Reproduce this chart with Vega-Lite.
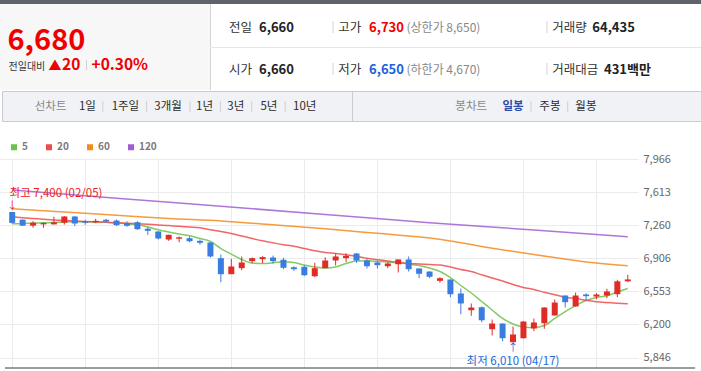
{
  "$schema": "https://vega.github.io/schema/vega-lite/v6.json",
  "background": "white",
  "padding": 0,
  "spacing": 0,
  "bounds": "flush",
  "resolve": {"scale": {"color": "independent"}, "legend": {"color": "independent"}},
  "config": {"font": "Noto Sans CJK KR", "view": {"stroke": null}},
  "datasets": {
    "quote": [{"price": "6,680", "chg": "20", "pct": "+0.30%", "prev": "6,660", "high": "6,730", "upper": "(상한가 8,650)", "vol": "64,435", "open": "6,660", "low": "6,650", "lower": "(하한가 4,670)", "amt": "431백만"}],
    "ext": [
      {"i": 0, "p": 7400, "kind": "high", "t": "최고 7,400 (02/05)"},
      {"i": 48, "p": 6010, "kind": "low", "t": "최저 6,010 (04/17)"}
    ],
    "candles": [
      {"i": 0, "o": 7400, "h": 7400, "l": 7275, "c": 7284, "m5": 7274, "m20": 7349, "m60": 7434, "m120": 7635},
      {"i": 1, "o": 7318, "h": 7320, "l": 7250, "c": 7254, "m5": 7277, "m20": 7339},
      {"i": 2, "o": 7254, "h": 7302, "l": 7232, "c": 7286, "m5": 7280, "m20": 7331},
      {"i": 3, "o": 7268, "h": 7290, "l": 7232, "c": 7282, "m5": 7285, "m20": 7322},
      {"i": 4, "o": 7268, "h": 7349, "l": 7266, "c": 7290, "m5": 7288, "m20": 7315},
      {"i": 5, "o": 7285, "h": 7356, "l": 7266, "c": 7352, "m5": 7293, "m20": 7309, "m60": 7400},
      {"i": 6, "o": 7352, "h": 7355, "l": 7248, "c": 7277, "m5": 7295, "m20": 7304},
      {"i": 7, "o": 7302, "h": 7317, "l": 7263, "c": 7285, "m5": 7295, "m20": 7298},
      {"i": 8, "o": 7292, "h": 7327, "l": 7280, "c": 7306, "m5": 7293, "m20": 7294},
      {"i": 9, "o": 7317, "h": 7327, "l": 7285, "c": 7299, "m5": 7290, "m20": 7290},
      {"i": 10, "o": 7309, "h": 7320, "l": 7250, "c": 7259, "m5": 7282, "m20": 7286, "m60": 7366, "m120": 7547},
      {"i": 11, "o": 7280, "h": 7302, "l": 7242, "c": 7253, "m5": 7274, "m20": 7280},
      {"i": 12, "o": 7291, "h": 7302, "l": 7210, "c": 7216, "m5": 7263, "m20": 7275},
      {"i": 13, "o": 7221, "h": 7238, "l": 7156, "c": 7199, "m5": 7240, "m20": 7269},
      {"i": 14, "o": 7192, "h": 7195, "l": 7106, "c": 7117, "m5": 7210, "m20": 7262},
      {"i": 15, "o": 7106, "h": 7158, "l": 7092, "c": 7156, "m5": 7186, "m20": 7256, "m60": 7331},
      {"i": 16, "o": 7115, "h": 7138, "l": 7077, "c": 7130, "m5": 7165, "m20": 7247},
      {"i": 17, "o": 7120, "h": 7141, "l": 7077, "c": 7088, "m5": 7146, "m20": 7240},
      {"i": 18, "o": 7092, "h": 7106, "l": 7050, "c": 7071, "m5": 7117, "m20": 7231},
      {"i": 19, "o": 7074, "h": 7078, "l": 6914, "c": 6925, "m5": 7085, "m20": 7211},
      {"i": 20, "o": 6907, "h": 6946, "l": 6650, "c": 6736, "m5": 7010, "m20": 7192, "m60": 7304, "m120": 7461},
      {"i": 21, "o": 6736, "h": 6900, "l": 6736, "c": 6818, "m5": 6951, "m20": 7170},
      {"i": 22, "o": 6800, "h": 6925, "l": 6778, "c": 6861, "m5": 6893, "m20": 7144},
      {"i": 23, "o": 6875, "h": 6914, "l": 6853, "c": 6907, "m5": 6855, "m20": 7117},
      {"i": 24, "o": 6896, "h": 6928, "l": 6853, "c": 6918, "m5": 6850, "m20": 7092},
      {"i": 25, "o": 6914, "h": 6935, "l": 6850, "c": 6875, "m5": 6857, "m20": 7071, "m60": 7263},
      {"i": 26, "o": 6890, "h": 6911, "l": 6789, "c": 6804, "m5": 6869, "m20": 7051},
      {"i": 27, "o": 6810, "h": 6821, "l": 6772, "c": 6789, "m5": 6861, "m20": 7034},
      {"i": 28, "o": 6815, "h": 6829, "l": 6716, "c": 6725, "m5": 6834, "m20": 7010},
      {"i": 29, "o": 6714, "h": 6857, "l": 6704, "c": 6800, "m5": 6813, "m20": 6986},
      {"i": 30, "o": 6800, "h": 6917, "l": 6800, "c": 6882, "m5": 6802, "m20": 6967, "m60": 7221, "m120": 7374},
      {"i": 31, "o": 6882, "h": 6954, "l": 6829, "c": 6925, "m5": 6813, "m20": 6957},
      {"i": 32, "o": 6907, "h": 6960, "l": 6864, "c": 6932, "m5": 6850, "m20": 6943},
      {"i": 33, "o": 6957, "h": 6960, "l": 6857, "c": 6882, "m5": 6877, "m20": 6927},
      {"i": 34, "o": 6882, "h": 6900, "l": 6797, "c": 6821, "m5": 6879, "m20": 6905},
      {"i": 35, "o": 6861, "h": 6875, "l": 6797, "c": 6832, "m5": 6873, "m20": 6891, "m60": 7172},
      {"i": 36, "o": 6821, "h": 6864, "l": 6800, "c": 6850, "m5": 6866, "m20": 6877},
      {"i": 37, "o": 6842, "h": 6893, "l": 6754, "c": 6893, "m5": 6857, "m20": 6861},
      {"i": 38, "o": 6893, "h": 6925, "l": 6764, "c": 6789, "m5": 6845, "m20": 6850},
      {"i": 39, "o": 6797, "h": 6797, "l": 6693, "c": 6740, "m5": 6829, "m20": 6845},
      {"i": 40, "o": 6764, "h": 6766, "l": 6693, "c": 6708, "m5": 6802, "m20": 6839, "m60": 7122, "m120": 7286},
      {"i": 41, "o": 6665, "h": 6704, "l": 6644, "c": 6693, "m5": 6764, "m20": 6834},
      {"i": 42, "o": 6679, "h": 6679, "l": 6490, "c": 6522, "m5": 6700, "m20": 6813, "m60": 7090},
      {"i": 43, "o": 6530, "h": 6583, "l": 6308, "c": 6423, "m5": 6615, "m20": 6786},
      {"i": 44, "o": 6351, "h": 6423, "l": 6291, "c": 6380, "m5": 6535, "m20": 6764},
      {"i": 45, "o": 6383, "h": 6390, "l": 6223, "c": 6244, "m5": 6444, "m20": 6729, "m60": 7032},
      {"i": 46, "o": 6148, "h": 6252, "l": 6081, "c": 6209, "m5": 6353, "m20": 6695},
      {"i": 47, "o": 6209, "h": 6212, "l": 6020, "c": 6052, "m5": 6263, "m20": 6663},
      {"i": 48, "o": 6010, "h": 6177, "l": 6010, "c": 6092, "m5": 6204, "m20": 6626},
      {"i": 49, "o": 6052, "h": 6235, "l": 6048, "c": 6230, "m5": 6172, "m20": 6594},
      {"i": 50, "o": 6156, "h": 6262, "l": 6127, "c": 6220, "m5": 6166, "m20": 6572, "m60": 6946, "m120": 7208},
      {"i": 51, "o": 6212, "h": 6383, "l": 6153, "c": 6380, "m5": 6188, "m20": 6543},
      {"i": 52, "o": 6295, "h": 6466, "l": 6293, "c": 6433, "m5": 6263, "m20": 6516},
      {"i": 53, "o": 6508, "h": 6510, "l": 6380, "c": 6437, "m5": 6337, "m20": 6490},
      {"i": 54, "o": 6391, "h": 6540, "l": 6391, "c": 6508, "m5": 6401, "m20": 6476},
      {"i": 55, "o": 6519, "h": 6533, "l": 6452, "c": 6501, "m5": 6455, "m20": 6458, "m60": 6866},
      {"i": 56, "o": 6497, "h": 6533, "l": 6469, "c": 6519, "m5": 6487, "m20": 6442},
      {"i": 57, "o": 6508, "h": 6580, "l": 6480, "c": 6551, "m5": 6505, "m20": 6433},
      {"i": 58, "o": 6522, "h": 6676, "l": 6490, "c": 6660, "m5": 6546, "m20": 6426},
      {"i": 59, "o": 6660, "h": 6730, "l": 6650, "c": 6680, "m5": 6583, "m20": 6421, "m60": 6826, "m120": 7135}
    ]
  },
  "vconcat": [
    {
      "width": 701,
      "height": 159,
      "data": {"name": "quote"},
      "layer": [
        {"mark": {"type": "rect", "color": "#5f6369"}, "encoding": {"x": {"datum": 0, "type": "quantitative", "scale": {"domain": [0, 701], "nice": false, "zero": false}, "axis": null}, "x2": {"datum": 701}, "y": {"datum": 0, "type": "quantitative", "scale": {"domain": [0, 159], "nice": false, "zero": false, "reverse": true}, "axis": null}, "y2": {"datum": 4}}},
        {"mark": {"type": "rect", "color": "#f7f7f7"}, "encoding": {"x": {"datum": 0, "axis": null}, "x2": {"datum": 210}, "y": {"datum": 4, "axis": null}, "y2": {"datum": 90}}},
        {"mark": {"type": "rule", "color": "#d3d3d3"}, "encoding": {"x": {"datum": 210.5, "axis": null}, "y": {"datum": 4, "axis": null}, "y2": {"datum": 90}}},
        {"mark": {"type": "rule", "color": "#e6e6e6"}, "encoding": {"x": {"datum": 210, "axis": null}, "x2": {"datum": 701}, "y": {"datum": 47.5, "axis": null}}},
        {"mark": {"type": "rect", "fill": "#f1f2f6", "stroke": "#c9cbd0", "strokeWidth": 1}, "encoding": {"x": {"datum": 2.5, "axis": null}, "x2": {"datum": 703}, "y": {"datum": 91.5, "axis": null}, "y2": {"datum": 121.5}}},
        {"mark": {"type": "rule", "color": "#c9cbd0"}, "encoding": {"x": {"datum": 352.5, "axis": null}, "y": {"datum": 91.5, "axis": null}, "y2": {"datum": 121.5}}},

        {"mark": {"type": "text", "align": "left", "baseline": "alphabetic", "fontSize": 29, "fontWeight": "bold", "color": "#f00000"}, "encoding": {"x": {"datum": 7.5, "axis": null}, "y": {"datum": 49.5, "axis": null}, "text": {"field": "price"}}},
        {"mark": {"type": "text", "align": "left", "baseline": "alphabetic", "fontSize": 10, "color": "#333333", "text": "전일대비"}, "encoding": {"x": {"datum": 8.5, "axis": null}, "y": {"datum": 69.5, "axis": null}}},
        {"mark": {"type": "text", "align": "left", "baseline": "alphabetic", "fontSize": 13, "color": "#f00000", "text": "▲"}, "encoding": {"x": {"datum": 48.5, "axis": null}, "y": {"datum": 69.5, "axis": null}}},
        {"mark": {"type": "text", "align": "left", "baseline": "alphabetic", "fontSize": 15.5, "fontWeight": "bold", "color": "#f00000"}, "encoding": {"x": {"datum": 62, "axis": null}, "y": {"datum": 70, "axis": null}, "text": {"field": "chg"}}},
        {"mark": {"type": "rule", "color": "#d0d0d0"}, "encoding": {"x": {"datum": 86.5, "axis": null}, "y": {"datum": 60, "axis": null}, "y2": {"datum": 70}}},
        {"mark": {"type": "text", "align": "left", "baseline": "alphabetic", "fontSize": 15.5, "fontWeight": "bold", "color": "#f00000"}, "encoding": {"x": {"datum": 91.5, "axis": null}, "y": {"datum": 70, "axis": null}, "text": {"field": "pct"}}},

        {"mark": {"type": "text", "align": "left", "baseline": "alphabetic", "fontSize": 12.5, "color": "#333333", "text": "전일"}, "encoding": {"x": {"datum": 229, "axis": null}, "y": {"datum": 31.8, "axis": null}}},
        {"mark": {"type": "text", "align": "left", "baseline": "alphabetic", "fontSize": 13, "fontWeight": "bold", "color": "#222222"}, "encoding": {"x": {"datum": 259, "axis": null}, "y": {"datum": 31.8, "axis": null}, "text": {"field": "prev"}}},
        {"mark": {"type": "rule", "color": "#d6d6d6"}, "encoding": {"x": {"datum": 333, "axis": null}, "y": {"datum": 21, "axis": null}, "y2": {"datum": 33}}},
        {"mark": {"type": "text", "align": "left", "baseline": "alphabetic", "fontSize": 12.5, "color": "#333333", "text": "고가"}, "encoding": {"x": {"datum": 338.3, "axis": null}, "y": {"datum": 31.8, "axis": null}}},
        {"mark": {"type": "text", "align": "left", "baseline": "alphabetic", "fontSize": 13, "fontWeight": "bold", "color": "#f00000"}, "encoding": {"x": {"datum": 369, "axis": null}, "y": {"datum": 31.8, "axis": null}, "text": {"field": "high"}}},
        {"mark": {"type": "text", "align": "left", "baseline": "alphabetic", "fontSize": 12, "color": "#888888"}, "encoding": {"x": {"datum": 406.5, "axis": null}, "y": {"datum": 31.8, "axis": null}, "text": {"field": "upper"}}},
        {"mark": {"type": "rule", "color": "#d6d6d6"}, "encoding": {"x": {"datum": 547, "axis": null}, "y": {"datum": 21, "axis": null}, "y2": {"datum": 33}}},
        {"mark": {"type": "text", "align": "left", "baseline": "alphabetic", "fontSize": 12.5, "color": "#333333", "text": "거래량"}, "encoding": {"x": {"datum": 552.3, "axis": null}, "y": {"datum": 31.8, "axis": null}}},
        {"mark": {"type": "text", "align": "left", "baseline": "alphabetic", "fontSize": 13, "fontWeight": "bold", "color": "#222222"}, "encoding": {"x": {"datum": 592.3, "axis": null}, "y": {"datum": 31.8, "axis": null}, "text": {"field": "vol"}}},

        {"mark": {"type": "text", "align": "left", "baseline": "alphabetic", "fontSize": 12.5, "color": "#333333", "text": "시가"}, "encoding": {"x": {"datum": 229, "axis": null}, "y": {"datum": 73.8, "axis": null}}},
        {"mark": {"type": "text", "align": "left", "baseline": "alphabetic", "fontSize": 13, "fontWeight": "bold", "color": "#222222"}, "encoding": {"x": {"datum": 259, "axis": null}, "y": {"datum": 73.8, "axis": null}, "text": {"field": "open"}}},
        {"mark": {"type": "rule", "color": "#d6d6d6"}, "encoding": {"x": {"datum": 333, "axis": null}, "y": {"datum": 63, "axis": null}, "y2": {"datum": 75}}},
        {"mark": {"type": "text", "align": "left", "baseline": "alphabetic", "fontSize": 12.5, "color": "#333333", "text": "저가"}, "encoding": {"x": {"datum": 338.3, "axis": null}, "y": {"datum": 73.8, "axis": null}}},
        {"mark": {"type": "text", "align": "left", "baseline": "alphabetic", "fontSize": 13, "fontWeight": "bold", "color": "#1a62dc"}, "encoding": {"x": {"datum": 369, "axis": null}, "y": {"datum": 73.8, "axis": null}, "text": {"field": "low"}}},
        {"mark": {"type": "text", "align": "left", "baseline": "alphabetic", "fontSize": 12, "color": "#888888"}, "encoding": {"x": {"datum": 406.5, "axis": null}, "y": {"datum": 73.8, "axis": null}, "text": {"field": "lower"}}},
        {"mark": {"type": "rule", "color": "#d6d6d6"}, "encoding": {"x": {"datum": 547, "axis": null}, "y": {"datum": 63, "axis": null}, "y2": {"datum": 75}}},
        {"mark": {"type": "text", "align": "left", "baseline": "alphabetic", "fontSize": 12.5, "color": "#333333", "text": "거래대금"}, "encoding": {"x": {"datum": 552.3, "axis": null}, "y": {"datum": 73.8, "axis": null}}},
        {"mark": {"type": "text", "align": "left", "baseline": "alphabetic", "fontSize": 13, "fontWeight": "bold", "color": "#222222"}, "encoding": {"x": {"datum": 604, "axis": null}, "y": {"datum": 73.8, "axis": null}, "text": {"field": "amt"}}},

        {"mark": {"type": "text", "align": "center", "baseline": "middle", "fontSize": 11.5, "color": "#888888", "text": "선차트"}, "encoding": {"x": {"datum": 50.6, "axis": null}, "y": {"datum": 106.5, "axis": null}}},
        {"mark": {"type": "text", "align": "center", "baseline": "middle", "fontSize": 11.5, "color": "#2b2b2b", "text": "1일"}, "encoding": {"x": {"datum": 87.4, "axis": null}, "y": {"datum": 106.5, "axis": null}}},
        {"mark": {"type": "rule", "color": "#cfd0d4"}, "encoding": {"x": {"datum": 102.8, "axis": null}, "y": {"datum": 101, "axis": null}, "y2": {"datum": 112}}},
        {"mark": {"type": "text", "align": "center", "baseline": "middle", "fontSize": 11.5, "color": "#2b2b2b", "text": "1주일"}, "encoding": {"x": {"datum": 125.4, "axis": null}, "y": {"datum": 106.5, "axis": null}}},
        {"mark": {"type": "rule", "color": "#cfd0d4"}, "encoding": {"x": {"datum": 146.6, "axis": null}, "y": {"datum": 101, "axis": null}, "y2": {"datum": 112}}},
        {"mark": {"type": "text", "align": "center", "baseline": "middle", "fontSize": 11.5, "color": "#2b2b2b", "text": "3개월"}, "encoding": {"x": {"datum": 168.1, "axis": null}, "y": {"datum": 106.5, "axis": null}}},
        {"mark": {"type": "rule", "color": "#cfd0d4"}, "encoding": {"x": {"datum": 190, "axis": null}, "y": {"datum": 101, "axis": null}, "y2": {"datum": 112}}},
        {"mark": {"type": "text", "align": "center", "baseline": "middle", "fontSize": 11.5, "color": "#2b2b2b", "text": "1년"}, "encoding": {"x": {"datum": 204.5, "axis": null}, "y": {"datum": 106.5, "axis": null}}},
        {"mark": {"type": "rule", "color": "#cfd0d4"}, "encoding": {"x": {"datum": 220.4, "axis": null}, "y": {"datum": 101, "axis": null}, "y2": {"datum": 112}}},
        {"mark": {"type": "text", "align": "center", "baseline": "middle", "fontSize": 11.5, "color": "#2b2b2b", "text": "3년"}, "encoding": {"x": {"datum": 235.8, "axis": null}, "y": {"datum": 106.5, "axis": null}}},
        {"mark": {"type": "rule", "color": "#cfd0d4"}, "encoding": {"x": {"datum": 251.7, "axis": null}, "y": {"datum": 101, "axis": null}, "y2": {"datum": 112}}},
        {"mark": {"type": "text", "align": "center", "baseline": "middle", "fontSize": 11.5, "color": "#2b2b2b", "text": "5년"}, "encoding": {"x": {"datum": 268.9, "axis": null}, "y": {"datum": 106.5, "axis": null}}},
        {"mark": {"type": "rule", "color": "#cfd0d4"}, "encoding": {"x": {"datum": 285.2, "axis": null}, "y": {"datum": 101, "axis": null}, "y2": {"datum": 112}}},
        {"mark": {"type": "text", "align": "center", "baseline": "middle", "fontSize": 11.5, "color": "#2b2b2b", "text": "10년"}, "encoding": {"x": {"datum": 304.7, "axis": null}, "y": {"datum": 106.5, "axis": null}}},
        {"mark": {"type": "text", "align": "center", "baseline": "middle", "fontSize": 11.5, "color": "#888888", "text": "봉차트"}, "encoding": {"x": {"datum": 471.2, "axis": null}, "y": {"datum": 106.5, "axis": null}}},
        {"mark": {"type": "text", "align": "center", "baseline": "middle", "fontSize": 11.5, "fontWeight": "bold", "color": "#2a4aa8", "text": "일봉"}, "encoding": {"x": {"datum": 513, "axis": null}, "y": {"datum": 106.5, "axis": null}}},
        {"mark": {"type": "rule", "color": "#cfd0d4"}, "encoding": {"x": {"datum": 531, "axis": null}, "y": {"datum": 101, "axis": null}, "y2": {"datum": 112}}},
        {"mark": {"type": "text", "align": "center", "baseline": "middle", "fontSize": 11.5, "color": "#2b2b2b", "text": "주봉"}, "encoding": {"x": {"datum": 549.9, "axis": null}, "y": {"datum": 106.5, "axis": null}}},
        {"mark": {"type": "rule", "color": "#cfd0d4"}, "encoding": {"x": {"datum": 567.7, "axis": null}, "y": {"datum": 101, "axis": null}, "y2": {"datum": 112}}},
        {"mark": {"type": "text", "align": "center", "baseline": "middle", "fontSize": 11.5, "color": "#2b2b2b", "text": "월봉"}, "encoding": {"x": {"datum": 585.9, "axis": null}, "y": {"datum": 106.5, "axis": null}}}
      ]
    },
    {
      "width": 638,
      "height": 209,
      "data": {"name": "candles"},
      "layer": [
        {
          "transform": [
            {"fold": ["m5", "m20", "m60", "m120"], "as": ["k", "v"]},
            {"filter": "isValid(datum.v)"}
          ],
          "mark": {"type": "line", "strokeWidth": 1.5, "opacity": 0.85, "interpolate": "monotone"},
          "encoding": {
            "x": {"field": "i", "type": "quantitative", "scale": {"domain": [-0.689, 59.5], "nice": false, "zero": false},
                  "axis": {"title": null, "values": [0, 7, 14, 21, 28, 35, 42, 49, 56], "grid": true, "gridColor": "#ebebeb", "labels": false, "ticks": false, "domain": false}},
            "y": {"field": "v", "type": "quantitative", "scale": {"domain": [5734, 7966], "nice": false, "zero": false},
                  "axis": {"title": null, "orient": "right", "values": [5846, 6200, 6553, 6906, 7260, 7613, 7966], "format": ",d", "grid": true, "gridColor": "#ebebeb", "ticks": false, "domain": false, "labelPadding": 5, "labelFontSize": 11, "labelColor": "#666666"}},
            "color": {"field": "k", "type": "nominal",
                      "scale": {"domain": ["m5", "m20", "m60", "m120"], "range": ["#6cc24a", "#ee4b4b", "#f5891c", "#a05fd0"]},
                      "legend": {"orient": "none", "legendX": 9, "legendY": -17, "direction": "horizontal", "title": null, "symbolType": "square", "symbolSize": 1, "symbolStrokeWidth": 5, "symbolOpacity": 1, "labelFontSize": 10, "labelFontWeight": "bold", "labelColor": "#7a7a7a", "labelOffset": 3, "columnPadding": 10, "padding": 0, "labelExpr": "substring(datum.label, 1)"}}
          }
        },
        {
          "mark": {"type": "rule", "strokeWidth": 1},
          "encoding": {
            "x": {"field": "i", "type": "quantitative", "axis": {"title": null, "values": [0, 7, 14, 21, 28, 35, 42, 49, 56], "grid": true, "gridColor": "#ebebeb", "labels": false, "ticks": false, "domain": false}},
            "y": {"field": "l", "type": "quantitative", "axis": {"title": null, "orient": "right", "values": [5846, 6200, 6553, 6906, 7260, 7613, 7966], "format": ",d", "grid": true, "gridColor": "#ebebeb", "ticks": false, "domain": false, "labelPadding": 5, "labelFontSize": 11, "labelColor": "#666666"}},
            "y2": {"field": "h"},
            "color": {"condition": {"test": "datum.c >= datum.o", "value": "#e02b27"}, "value": "#3a7de0"}
          }
        },
        {
          "mark": {"type": "bar", "width": 6},
          "encoding": {
            "x": {"field": "i", "type": "quantitative", "axis": {"title": null, "values": [0, 7, 14, 21, 28, 35, 42, 49, 56], "grid": true, "gridColor": "#ebebeb", "labels": false, "ticks": false, "domain": false}},
            "y": {"field": "o", "type": "quantitative", "axis": {"title": null, "orient": "right", "values": [5846, 6200, 6553, 6906, 7260, 7613, 7966], "format": ",d", "grid": true, "gridColor": "#ebebeb", "ticks": false, "domain": false, "labelPadding": 5, "labelFontSize": 11, "labelColor": "#666666"}},
            "y2": {"field": "c"},
            "color": {"condition": {"test": "datum.c >= datum.o", "value": "#e02b27"}, "value": "#3a7de0"}
          }
        },
        {
          "data": {"name": "ext"},
          "transform": [{"filter": "datum.kind == 'high'"}],
          "mark": {"type": "text", "align": "left", "baseline": "alphabetic", "dx": -2.6, "dy": -15, "fontSize": 11.5, "color": "#f01c1c"},
          "encoding": {
            "x": {"field": "i", "type": "quantitative", "axis": {"title": null, "values": [0, 7, 14, 21, 28, 35, 42, 49, 56], "grid": true, "gridColor": "#ebebeb", "labels": false, "ticks": false, "domain": false}},
            "y": {"field": "p", "type": "quantitative", "axis": {"title": null, "orient": "right", "values": [5846, 6200, 6553, 6906, 7260, 7613, 7966], "format": ",d", "grid": true, "gridColor": "#ebebeb", "ticks": false, "domain": false, "labelPadding": 5, "labelFontSize": 11, "labelColor": "#666666"}},
            "text": {"field": "t"}
          }
        },
        {
          "data": {"name": "ext"},
          "transform": [{"filter": "datum.kind == 'high'"}],
          "mark": {"type": "text", "align": "center", "baseline": "bottom", "dy": -1, "fontSize": 10.5, "color": "#f01c1c", "text": "↓"},
          "encoding": {
            "x": {"field": "i", "type": "quantitative", "axis": {"title": null, "values": [0, 7, 14, 21, 28, 35, 42, 49, 56], "grid": true, "gridColor": "#ebebeb", "labels": false, "ticks": false, "domain": false}},
            "y": {"field": "p", "type": "quantitative", "axis": {"title": null, "orient": "right", "values": [5846, 6200, 6553, 6906, 7260, 7613, 7966], "format": ",d", "grid": true, "gridColor": "#ebebeb", "ticks": false, "domain": false, "labelPadding": 5, "labelFontSize": 11, "labelColor": "#666666"}}
          }
        },
        {
          "data": {"name": "ext"},
          "transform": [{"filter": "datum.kind == 'low'"}],
          "mark": {"type": "text", "align": "center", "baseline": "alphabetic", "dy": 23, "fontSize": 11.5, "color": "#1f6ad6"},
          "encoding": {
            "x": {"field": "i", "type": "quantitative", "axis": {"title": null, "values": [0, 7, 14, 21, 28, 35, 42, 49, 56], "grid": true, "gridColor": "#ebebeb", "labels": false, "ticks": false, "domain": false}},
            "y": {"field": "p", "type": "quantitative", "axis": {"title": null, "orient": "right", "values": [5846, 6200, 6553, 6906, 7260, 7613, 7966], "format": ",d", "grid": true, "gridColor": "#ebebeb", "ticks": false, "domain": false, "labelPadding": 5, "labelFontSize": 11, "labelColor": "#666666"}},
            "text": {"field": "t"}
          }
        },
        {
          "data": {"name": "ext"},
          "transform": [{"filter": "datum.kind == 'low'"}],
          "mark": {"type": "text", "align": "center", "baseline": "top", "dy": 1, "fontSize": 10.5, "color": "#1f6ad6", "text": "↑"},
          "encoding": {
            "x": {"field": "i", "type": "quantitative", "axis": {"title": null, "values": [0, 7, 14, 21, 28, 35, 42, 49, 56], "grid": true, "gridColor": "#ebebeb", "labels": false, "ticks": false, "domain": false}},
            "y": {"field": "p", "type": "quantitative", "axis": {"title": null, "orient": "right", "values": [5846, 6200, 6553, 6906, 7260, 7613, 7966], "format": ",d", "grid": true, "gridColor": "#ebebeb", "ticks": false, "domain": false, "labelPadding": 5, "labelFontSize": 11, "labelColor": "#666666"}}
          }
        },
        {
          "data": {"values": [{}]},
          "mark": {"type": "rule", "color": "#7b7b7b", "strokeWidth": 1.5},
          "encoding": {
            "x": {"datum": -0.689, "axis": {"title": null, "values": [0, 7, 14, 21, 28, 35, 42, 49, 56], "grid": true, "gridColor": "#ebebeb", "labels": false, "ticks": false, "domain": false}},
            "x2": {"datum": 65.45},
            "y": {"datum": 5734, "axis": {"title": null, "orient": "right", "values": [5846, 6200, 6553, 6906, 7260, 7613, 7966], "format": ",d", "grid": true, "gridColor": "#ebebeb", "ticks": false, "domain": false, "labelPadding": 5, "labelFontSize": 11, "labelColor": "#666666"}}
          }
        }
      ]
    }
  ]
}
